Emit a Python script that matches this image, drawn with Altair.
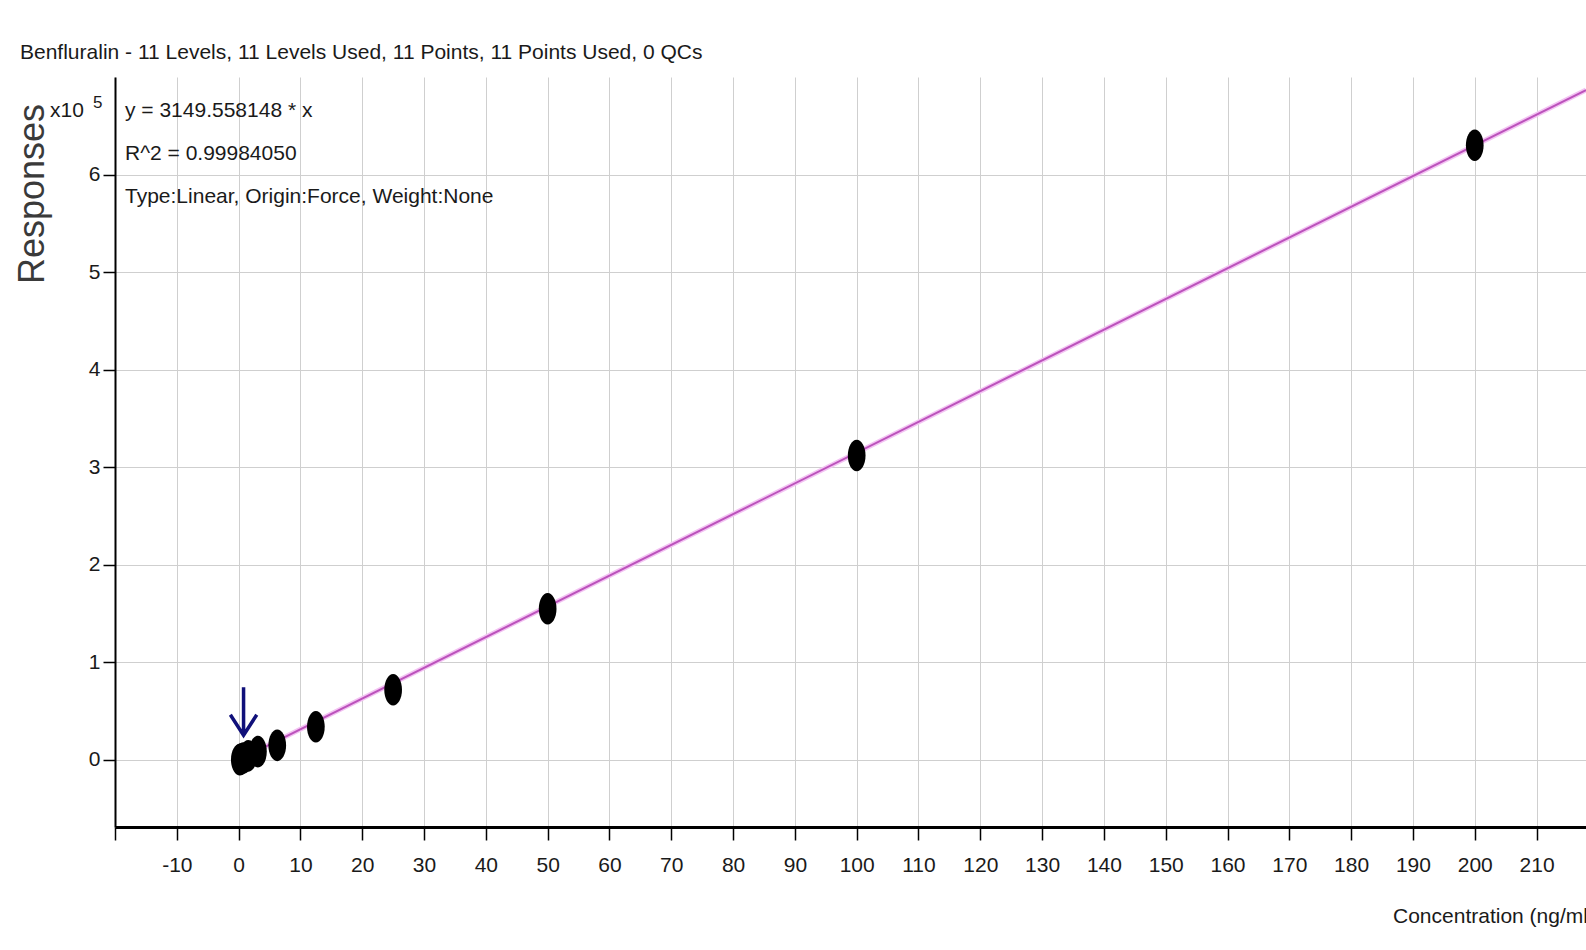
import altair as alt
import pandas as pd

# Calibration levels (ng/ml) and measured responses
concentration = [0.1953125, 0.390625, 0.78125, 1.5625, 3.125, 6.25, 12.5, 25, 50, 100, 200]
responses = [350, 900, 2000, 4200, 8500, 15000, 34000, 72000, 155000, 312000, 630000]

# Fitted curve (forced through origin)
slope = 3149.558148
r_squared = "0.99984050"
fit_x = [0, 218]

# Axis layout
x_domain = [-20, 218]
y_domain = [-68700, 700000]
x_ticks = list(range(-20, 220, 10))
y_ticks = [0, 100000, 200000, 300000, 400000, 500000, 600000]

# Marker for the lowest calibration level
arrow_x = [0.8]
arrow_y = [50000]

title_text = "Benfluralin - 11 Levels, 11 Levels Used, 11 Points, 11 Points Used, 0 QCs"
eq_lines = [
    f"y = {slope} * x",
    f"R^2 = {r_squared}",
    "Type:Linear, Origin:Force, Weight:None",
]

FONT = '"Liberation Sans", Arial, sans-serif'
FS = 21
TXT = "#1a1a1a"

pts = pd.DataFrame({"conc": concentration, "resp": responses})
fit = pd.DataFrame({"conc": fit_x, "resp": [slope * v for v in fit_x]})
arrow = pd.DataFrame({"conc": arrow_x, "resp": arrow_y})

x_enc = alt.X(
    "conc:Q",
    scale=alt.Scale(domain=x_domain, nice=False, zero=False),
    axis=alt.Axis(
        title=None,
        values=x_ticks,
        labelExpr="datum.value == -20 ? '' : datum.value",
        labelFont=FONT,
        labelFontSize=FS,
        labelColor=TXT,
        labelPadding=14,
        labelFlush=False,
        labelOverlap=False,
        domainColor="black",
        domainWidth=3,
        tickColor="black",
        tickSize=13,
        tickWidth=1.5,
        gridColor="#cfcfcf",
        gridWidth=1,
    ),
)
y_enc = alt.Y(
    "resp:Q",
    scale=alt.Scale(domain=y_domain, nice=False, zero=False),
    axis=alt.Axis(
        title=None,
        values=y_ticks,
        labelExpr="datum.value / 100000",
        labelFont=FONT,
        labelFontSize=FS,
        labelColor=TXT,
        labelPadding=3,
        labelFlush=False,
        labelOverlap=False,
        domainColor="black",
        domainWidth=2,
        tickColor="black",
        tickSize=12,
        tickWidth=1.5,
        gridColor="#cfcfcf",
        gridWidth=1,
    ),
)

halo = alt.Chart(fit).mark_line(color="#f3c3f3", strokeWidth=5).encode(x=x_enc, y=y_enc)
line = alt.Chart(fit).mark_line(color="#bb52bb", strokeWidth=2).encode(x="conc:Q", y="resp:Q")

ellipse = "M0,-1A0.56,1,0,1,1,0,1A0.56,1,0,1,1,0,-1Z"
points = alt.Chart(pts).mark_point(
    shape=ellipse, filled=True, color="black", opacity=1, size=1000
).encode(x="conc:Q", y="resp:Q")

arrow_path = "M0,-1L0,1M-0.55,0.15L0,1L0.55,0.15"
arrow_mark = alt.Chart(arrow).mark_point(
    shape=arrow_path, filled=False, stroke="#10107a", strokeWidth=3.5, opacity=1, size=2304
).encode(x="conc:Q", y="resp:Q")

one = pd.DataFrame({"k": [0]})


def label(text, x, y, size=FS, angle=0, align="left", baseline="alphabetic", color=TXT):
    props = dict(
        text=text, font=FONT, fontSize=size, color=color, align=align, baseline=baseline
    )
    if angle:
        props["angle"] = angle
    return alt.Chart(one).mark_text(**props).encode(x=alt.value(x), y=alt.value(y))


texts = [
    label(title_text, -95, -18),
    label(eq_lines[0], 10, 40),
    label(eq_lines[1], 10, 83),
    label(eq_lines[2], 10, 126),
    label("x10", -65, 40),
    label("5", -22, 31, size=17),
    label("Responses", -82, 117, size=36, angle=270, align="center", baseline="middle",
          color="#3a3a3a"),
    label("Concentration (ng/ml)", 1278, 846),
]

chart = alt.layer(halo, line, points, arrow_mark, *texts).properties(
    width=1471,
    height=750,
    autosize=alt.AutoSizeParams(type="none"),
    padding={"left": 115, "top": 77, "right": 0, "bottom": 123},
    background="white",
).configure_view(stroke=None)

chart.save("out.html", embed_options={"renderer": "svg", "actions": False})
